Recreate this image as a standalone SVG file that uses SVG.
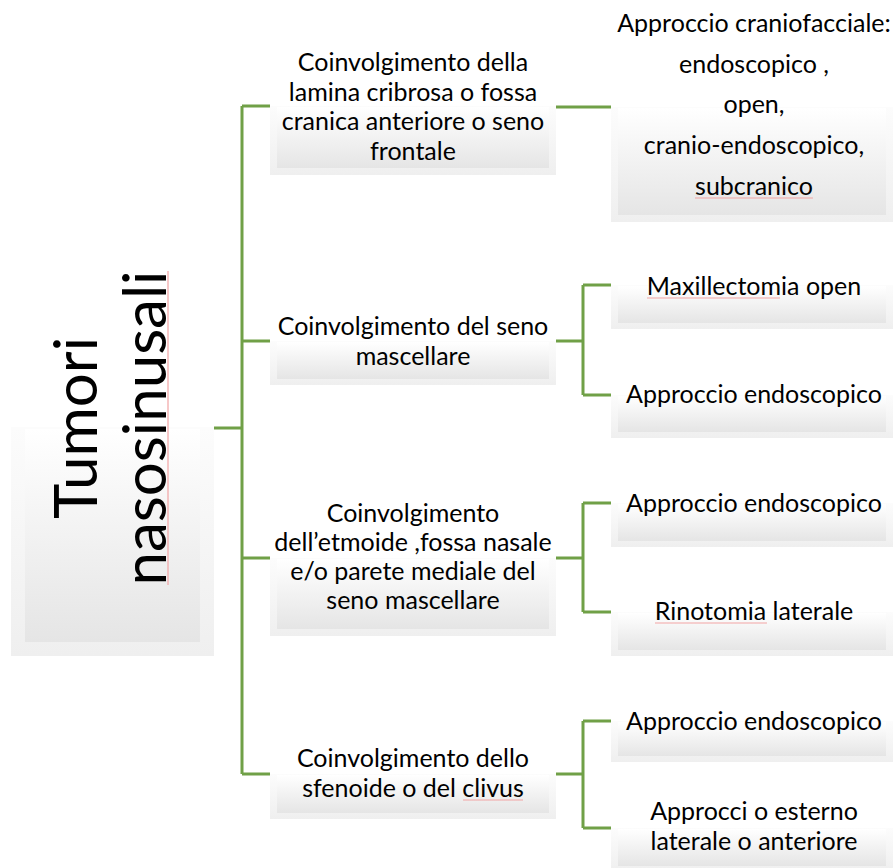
<svg xmlns="http://www.w3.org/2000/svg" width="894" height="868" viewBox="0 0 894 868">
<defs>
<linearGradient id="gOuter" x1="0" y1="0" x2="0" y2="1">
<stop offset="0" stop-color="#fcfcfc"/>
<stop offset="1" stop-color="#efefef"/>
</linearGradient>
<linearGradient id="gInner" x1="0" y1="0" x2="0" y2="1">
<stop offset="0" stop-color="#ffffff"/>
<stop offset="1" stop-color="#e5e5e5"/>
</linearGradient>
</defs>
<style>
.bo{fill:url(#gOuter);}
.bi{fill:url(#gInner);}
.t{font-family:Lato,"Open Sans",sans-serif;font-size:25px;fill:#000;text-anchor:middle;}
.root{font-family:Lato,"Open Sans",sans-serif;font-size:60px;fill:#000;text-anchor:middle;}
.c{fill:none;stroke:#70a047;stroke-width:3;}
.sp{fill:none;stroke:#f2a3a3;stroke-width:1.2;}
</style>
<rect width="894" height="868" fill="#ffffff"/>

<g id="connectors">
<path class="c" d="M214,428 H242 M242,106 V774 M242,106 H270 M242,341 H270 M242,558 H270 M242,774 H270"/>
<path class="c" d="M556,107 H611"/>
<path class="c" d="M556,341 H583 M583,285 V395 M583,285 H611 M583,395 H611"/>
<path class="c" d="M556,558 H583 M583,503 V612 M583,503 H611 M583,612 H611"/>
<path class="c" d="M556,774 H583 M583,721 V828 M583,721 H611 M583,828 H611"/>
</g>

<g id="root">
<rect class="bo" x="11" y="427" width="203" height="229"/>
<rect class="bi" x="25" y="429" width="175" height="213"/>
<text class="root" transform="translate(97,428) rotate(-90)">Tumori</text>
<text class="root" transform="translate(166,428) rotate(-90)">nasosinusali</text>
<line class="sp" x1="168" y1="271" x2="168" y2="585"/>
</g>

<g id="n1">
<rect class="bo" x="270" y="106" width="286" height="69"/>
<rect class="bi" x="277" y="107" width="272" height="61"/>
<text class="t" x="413" y="71">Coinvolgimento della</text>
<text class="t" x="413" y="100.5">lamina cribrosa o fossa</text>
<text class="t" x="413" y="130">cranica anteriore o seno</text>
<text class="t" x="413" y="159.5">frontale</text>
</g>

<g id="n1a">
<rect class="bo" x="611" y="107" width="282" height="115"/>
<rect class="bi" x="618" y="108" width="268" height="107"/>
<text class="t" x="754" y="32">Approccio craniofacciale:</text>
<text class="t" x="754" y="73">endoscopico ,</text>
<text class="t" x="754" y="113">open,</text>
<text class="t" x="754" y="154">cranio-endoscopico,</text>
<text class="t" x="754" y="195">subcranico</text>
<line class="sp" x1="695" y1="198" x2="813" y2="198"/>
</g>

<g id="n2">
<rect class="bo" x="270" y="341" width="286" height="44"/>
<rect class="bi" x="277" y="342" width="272" height="37"/>
<text class="t" x="413" y="335">Coinvolgimento del seno</text>
<text class="t" x="413" y="365">mascellare</text>
</g>

<g id="n2a">
<rect class="bo" x="611" y="285" width="282" height="44"/>
<rect class="bi" x="618" y="286" width="268" height="37"/>
<text class="t" x="754" y="295">Maxillectomia open</text>
<line class="sp" x1="647" y1="298" x2="780" y2="298"/>
</g>

<g id="n2b">
<rect class="bo" x="611" y="395" width="282" height="43"/>
<rect class="bi" x="618" y="396" width="268" height="36"/>
<text class="t" x="754" y="403">Approccio endoscopico</text>
</g>

<g id="n3">
<rect class="bo" x="270" y="558" width="286" height="78"/>
<rect class="bi" x="277" y="559" width="272" height="70"/>
<text class="t" x="413" y="522">Coinvolgimento</text>
<text class="t" x="413" y="551">dell’etmoide ,fossa nasale</text>
<text class="t" x="413" y="580">e/o parete mediale del</text>
<text class="t" x="413" y="609">seno mascellare</text>
</g>

<g id="n3a">
<rect class="bo" x="611" y="503" width="282" height="44"/>
<rect class="bi" x="618" y="504" width="268" height="37"/>
<text class="t" x="754" y="512">Approccio endoscopico</text>
</g>

<g id="n3b">
<rect class="bo" x="611" y="612" width="282" height="44"/>
<rect class="bi" x="618" y="613" width="268" height="37"/>
<text class="t" x="754" y="620">Rinotomia laterale</text>
<line class="sp" x1="655" y1="623" x2="767" y2="623"/>
</g>

<g id="n4">
<rect class="bo" x="270" y="774" width="286" height="45"/>
<rect class="bi" x="277" y="775" width="272" height="38"/>
<text class="t" x="413" y="767">Coinvolgimento dello</text>
<text class="t" x="413" y="797">sfenoide o del clivus</text>
<line class="sp" x1="463" y1="800" x2="523" y2="800"/>
</g>

<g id="n4a">
<rect class="bo" x="611" y="721" width="282" height="41"/>
<rect class="bi" x="618" y="722" width="268" height="34"/>
<text class="t" x="754" y="730">Approccio endoscopico</text>
</g>

<g id="n4b">
<rect class="bo" x="611" y="828" width="282" height="44"/>
<rect class="bi" x="618" y="829" width="268" height="37"/>
<text class="t" x="754" y="820">Approcci o esterno</text>
<text class="t" x="754" y="850">laterale o anteriore</text>
</g>
</svg>
